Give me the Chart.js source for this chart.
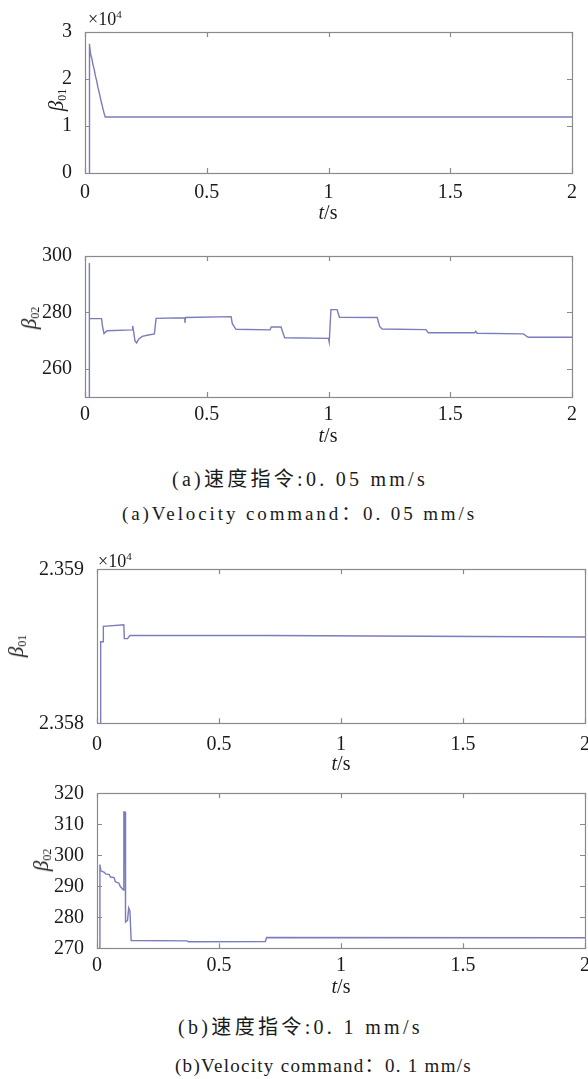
<!DOCTYPE html>
<html><head><meta charset="utf-8">
<script src="https://cdn.jsdelivr.net/npm/chart.js@4.4.1/dist/chart.umd.min.js"></script>
<style>
body{margin:0;background:#fff;width:588px;height:1079px;position:relative;overflow:hidden;font-family:"Liberation Serif","Times New Roman",serif;color:#1a1a1a}
canvas{position:absolute;left:0}
.lbl{position:absolute;white-space:nowrap;line-height:1}
.ax{transform:translate(-50%,-50%);font-size:20px}
.ylab{transform:translate(-50%,-50%) rotate(-90deg);font-size:21px}
.ylab sub{font-size:12px;vertical-align:-3px}
.mul{font-size:18px}
.mul sup{font-size:11px;vertical-align:7px}
.cap{transform:translateY(-50%);font-size:19px;font-family:"Liberation Serif","Noto Sans CJK SC",serif}
.capc{font-size:20px}
</style></head><body>
<canvas id="c1" width="588" height="230" style="top:0px"></canvas>
<canvas id="c2" width="588" height="200" style="top:240px"></canvas>
<canvas id="c3" width="588" height="225" style="top:540px"></canvas>
<canvas id="c4" width="588" height="220" style="top:770px"></canvas>

<div class="lbl mul" style="left:88px;top:9px">×10<sup>4</sup></div>
<div class="lbl ylab" style="left:57px;top:100px"><i>β</i><sub>01</sub></div>
<div class="lbl ax" style="left:328px;top:212px"><i>t</i>/s</div>

<div class="lbl ylab" style="left:30px;top:318px"><i>β</i><sub>02</sub></div>
<div class="lbl ax" style="left:328px;top:435px"><i>t</i>/s</div>

<div class="lbl cap capc" id="capA1" style="top:479px">(a)速度指令:0. 05 mm/s</div>
<div class="lbl cap" id="capA2" style="top:513px">(a)Velocity command：0. 05 mm/s</div>

<div class="lbl mul" style="left:98px;top:551px">×10<sup>4</sup></div>
<div class="lbl ylab" style="left:17px;top:646px"><i>β</i><sub>01</sub></div>
<div class="lbl ax" style="left:341px;top:763px"><i>t</i>/s</div>

<div class="lbl ylab" style="left:42px;top:860px"><i>β</i><sub>02</sub></div>
<div class="lbl ax" style="left:341px;top:986px"><i>t</i>/s</div>

<div class="lbl cap capc" id="capB1" style="top:1027px">(b)速度指令:0. 1 mm/s</div>
<div class="lbl cap" id="capB2" style="top:1065px">(b)Velocity command：0. 1 mm/s</div>

<script>
// ---- data ----
const xTicks = [0, 0.5, 1, 1.5, 2];

// (a) beta01, in units of 1e4
const t1 = [0.017, 0.017, 0.020, 0.024, 0.028, 0.033, 0.038, 0.043, 0.048, 0.053, 0.058, 0.063, 0.068, 0.073, 0.078, 0.083, 2.0];
const b1 = [0, 2.75, 2.72, 2.50, 2.44, 2.30, 2.20, 2.06, 1.96, 1.82, 1.72, 1.60, 1.49, 1.38, 1.28, 1.19, 1.19];
const yTicks1 = [0, 1, 2, 3];

// (a) beta02
const t2 = [0.017, 0.017, 0.019, 0.068, 0.072, 0.078, 0.09, 0.195, 0.196, 0.2, 0.205, 0.212, 0.22, 0.235, 0.26, 0.285, 0.292, 0.41, 0.41, 0.413, 0.6, 0.605, 0.62, 0.76, 0.765, 0.805, 0.82, 1.0, 1.003, 1.01, 1.035, 1.045, 1.2, 1.21, 1.22, 1.4, 1.41, 1.6, 1.605, 1.61, 1.8, 1.82, 2.0];
const b2 = [250, 297.5, 277.8, 277.8, 275, 272.5, 273.5, 273.8, 275.2, 273, 270, 269.2, 270.5, 271.5, 272, 272.4, 277.9, 278.1, 276.3, 278.2, 278.5, 276, 274, 273.8, 274.8, 274.8, 271, 270.8, 269.5, 281, 281, 278.3, 278.2, 275, 274.1, 273.9, 272.8, 272.8, 273.3, 272.6, 272.4, 271.2, 271.2];
const yTicks2 = [260, 280, 300];

// (b) beta01, in units of 1e4
const t3 = [0.015, 0.015, 0.026, 0.026, 0.11, 0.112, 0.125, 0.135, 0.7, 2.0];
const b3 = [2.358, 2.35853, 2.35853, 2.35863, 2.35864, 2.35855, 2.35855, 2.35857, 2.35857, 2.35856];
const yTicks3 = [2.358, 2.359];

// (b) beta02
const t4 = [0.012, 0.012, 0.016, 0.03, 0.035, 0.05, 0.055, 0.07, 0.075, 0.09, 0.095, 0.108, 0.11, 0.115, 0.116, 0.118, 0.125, 0.13, 0.135, 0.14, 0.37, 0.375, 0.69, 0.695, 2.0];
const b4 = [270, 297, 295, 294.5, 294, 293.8, 293, 292.8, 291.5, 291, 290, 288.8, 314, 314, 289, 278.5, 279, 283, 282, 272.5, 272.4, 272.1, 272.2, 273.5, 273.4];
const yTicks4 = [270, 280, 290, 300, 310, 320];

// ---- styles ----
const LINE = '#7a7cbc';
const AXIS = '#8a8a8a';
const TXT = '#1a1a1a';
const FONT = {family: '"Liberation Serif", "Times New Roman", serif', size: 20};

const boxTicks = {
  id: 'boxTicks',
  afterDraw(chart) {
    const {ctx, chartArea: a, scales: {x, y}} = chart;
    const L = 5;
    ctx.save();
    ctx.strokeStyle = AXIS;
    ctx.lineWidth = 1.2;
    ctx.strokeRect(Math.round(a.left) + 0.5, Math.round(a.top) + 0.5, Math.round(a.right - a.left), Math.round(a.bottom - a.top));
    ctx.beginPath();
    x.ticks.forEach(t => {
      const px = Math.round(x.getPixelForValue(t.value)) + 0.5;
      ctx.moveTo(px, a.bottom); ctx.lineTo(px, a.bottom - L);
      ctx.moveTo(px, a.top); ctx.lineTo(px, a.top + L);
    });
    y.ticks.forEach(t => {
      const py = Math.round(y.getPixelForValue(t.value)) + 0.5;
      ctx.moveTo(a.left, py); ctx.lineTo(a.left + L, py);
      ctx.moveTo(a.right, py); ctx.lineTo(a.right - L, py);
    });
    ctx.stroke();
    ctx.restore();
  }
};

const fmt = v => String(+Number(v).toFixed(4));

function makeChart(id, T, V, yt, cfg) {
  const pts = T.map((t, i) => ({x: t, y: V[i]}));
  return new Chart(document.getElementById(id), {
    type: 'line',
    data: {datasets: [{data: pts, borderColor: LINE, borderWidth: 1.4, pointRadius: 0, tension: 0, fill: false}]},
    options: {
      responsive: false, animation: false, events: [],
      layout: {padding: {top: cfg.top, right: cfg.right, left: 0, bottom: 0}},
      plugins: {legend: {display: false}, tooltip: {enabled: false}},
      scales: {
        x: {
          type: 'linear', min: 0, max: 2,
          afterBuildTicks: s => { s.ticks = xTicks.map(v => ({value: v})); },
          afterFit: s => { s.height = cfg.xh; s.paddingRight = 0; s.paddingLeft = 0; },
          grid: {display: false}, border: {display: false},
          ticks: {padding: cfg.xpad, font: FONT, color: TXT, callback: fmt, maxRotation: 0, autoSkip: false}
        },
        y: {
          type: 'linear', min: cfg.ymin, max: cfg.ymax,
          afterBuildTicks: s => { s.ticks = yt.map(v => ({value: v})); },
          afterFit: s => { s.width = cfg.yw; s.paddingTop = 0; s.paddingBottom = 0; },
          grid: {display: false}, border: {display: false},
          ticks: {padding: 5, font: FONT, color: TXT, callback: fmt, autoSkip: false}
        }
      }
    },
    plugins: [boxTicks]
  });
}

makeChart('c1', t1, b1, yTicks1, {top: 32, right: 16, xh: 57, yw: 85, xpad: 0, ymin: 0, ymax: 3});
makeChart('c2', t2, b2, yTicks2, {top: 16, right: 16, xh: 43, yw: 85, xpad: -2, ymin: 250, ymax: 300});
makeChart('c3', t3, b3, yTicks3, {top: 29.3, right: 3, xh: 41.7, yw: 97, xpad: 1, ymin: 2.358, ymax: 2.359});
makeChart('c4', t4, b4, yTicks4, {top: 23.3, right: 3, xh: 41.7, yw: 97, xpad: -3, ymin: 270, ymax: 320});

function fit(id, left, right) {
  const el = document.getElementById(id);
  el.style.left = left + 'px';
  el.style.letterSpacing = '0px';
  const w = el.getBoundingClientRect().width;
  const n = el.textContent.length;
  el.style.letterSpacing = (((right - left) - w) / n) + 'px';
}
fit('capA1', 172, 428);
fit('capA2', 122, 477);
fit('capB1', 178, 423);
fit('capB2', 175, 472);
</script>
</body></html>
